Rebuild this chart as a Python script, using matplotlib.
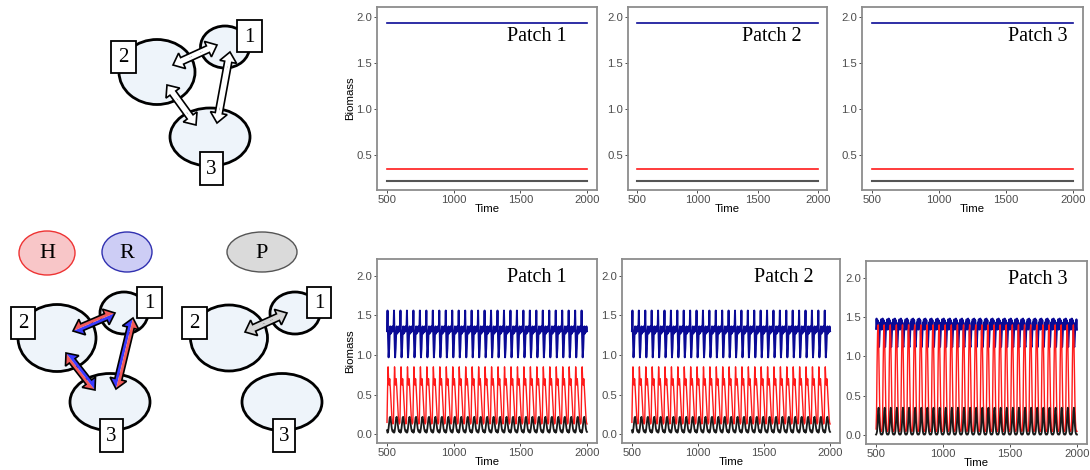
import numpy as np
import matplotlib.pyplot as plt
from matplotlib.patches import Ellipse, Rectangle, Polygon

plt.rcParams['font.family'] = ['Liberation Sans', 'DejaVu Sans']

# ---------------------------------------------------------------
# data
# ---------------------------------------------------------------
time_range = [500, 2000]
patch_names = ['Patch 1', 'Patch 2', 'Patch 3']

# stable (upper row): equilibrium biomass per species, same in every patch
eq_resource = [1.94, 1.94, 1.94]
eq_herbivore = [0.35, 0.35, 0.35]
eq_predator = [0.22, 0.22, 0.22]

# cycling (lower row): one cycle of each species, repeated n_cycles times
n_cycles = [31, 31, 33]
cycle_resource = [
    [1.30, 1.56, 1.22, 0.97, 1.08, 1.28, 1.36, 1.27, 1.34, 1.29, 1.36, 1.30],
    [1.30, 1.56, 1.22, 0.97, 1.08, 1.28, 1.36, 1.27, 1.34, 1.29, 1.36, 1.30],
    [1.35, 1.48, 1.38, 1.46, 1.28, 1.14, 1.12, 1.26, 1.43, 1.36, 1.47, 1.34],
]
cycle_herbivore = [
    [0.15, 0.55, 0.85, 0.68, 0.62, 0.70, 0.60, 0.47, 0.34, 0.22, 0.15, 0.13],
    [0.15, 0.55, 0.85, 0.68, 0.62, 0.70, 0.60, 0.47, 0.34, 0.22, 0.15, 0.13],
    [0.08, 0.30, 0.90, 1.30, 1.40, 1.22, 0.80, 0.42, 0.18, 0.08, 0.05, 0.05],
]
cycle_predator = [
    [0.05, 0.02, 0.03, 0.08, 0.15, 0.21, 0.22, 0.18, 0.12, 0.07, 0.04, 0.03],
    [0.05, 0.02, 0.03, 0.08, 0.15, 0.21, 0.22, 0.18, 0.12, 0.07, 0.04, 0.03],
    [0.01, 0.02, 0.05, 0.15, 0.30, 0.35, 0.25, 0.12, 0.05, 0.02, 0.01, 0.01],
]

blue = '#0a0a96'
red = '#ff1a1a'
black = '#1a1a1a'

W, H = 1090, 470
fig = plt.figure(figsize=(W / 100, H / 100), dpi=100)

# ---------------------------------------------------------------
# network sketches (drawn in pixel coordinates)
# ---------------------------------------------------------------
ax_d = fig.add_axes([0, 0, 1, 1])
ax_d.set_xlim(0, W)
ax_d.set_ylim(H, 0)
ax_d.axis('off')

patch_fill = '#eef4fa'


def patch(cx, cy, w, h):
    ax_d.add_patch(Ellipse((cx, cy), w, h, facecolor=patch_fill, edgecolor='black', lw=2.0, zorder=2))


def label_box(x0, y0, x1, y1, txt):
    ax_d.add_patch(Rectangle((x0, y0), x1 - x0, y1 - y0, facecolor='white', edgecolor='black', lw=1.3, zorder=6))
    ax_d.text((x0 + x1) / 2, (y0 + y1) / 2 + 1, txt, ha='center', va='center', fontsize=15,
              family='Liberation Serif', zorder=7)


def double_arrow(p0, p1, colors, w=3.6, hw=8.5, hl=10):
    p0 = np.array(p0, float)
    p1 = np.array(p1, float)
    u = (p1 - p0) / np.hypot(*(p1 - p0))
    n = np.array([-u[1], u[0]])
    halves = []
    for s in (1, -1):
        halves.append([p0, p0 + u * hl + s * n * hw, p0 + u * hl + s * n * w,
                       p1 - u * hl + s * n * w, p1 - u * hl + s * n * hw, p1])
    for half, c in zip(halves, colors):
        ax_d.add_patch(Polygon(half, closed=True, facecolor=c, edgecolor='none', zorder=4))
    outline = halves[0] + halves[1][::-1][1:-1]
    ax_d.add_patch(Polygon(outline, closed=True, facecolor='none', edgecolor='black', lw=1.2, zorder=5))


# upper sketch: all patches linked
patch(157, 72, 76, 65)
patch(225, 47, 49, 42)
patch(210, 137, 80, 58)
double_arrow((173, 65), (217, 45), ('white', 'white'))
double_arrow((167, 85), (196, 125), ('white', 'white'))
double_arrow((230, 52), (217, 123), ('white', 'white'))
label_box(111, 41, 136, 73, '2')
label_box(237, 20, 262, 52, '1')
label_box(200, 152, 223, 185, '3')

# species legend
ax_d.add_patch(Ellipse((47, 253), 56, 44, facecolor='#f8c6c8', edgecolor='#ee3333', lw=1.0))
ax_d.text(47, 254, 'H', ha='center', va='center', fontsize=16, family='Liberation Serif')
ax_d.add_patch(Ellipse((127, 252), 50, 40, facecolor='#cdcdf5', edgecolor='#3030b0', lw=1.0))
ax_d.text(127, 253, 'R', ha='center', va='center', fontsize=16, family='Liberation Serif')
ax_d.add_patch(Ellipse((262, 252), 70, 40, facecolor='#dadada', edgecolor='#555555', lw=1.0))
ax_d.text(262, 253, 'P', ha='center', va='center', fontsize=16, family='Liberation Serif')

# lower-left sketch: H and R move between all patches
patch(57, 338, 78, 67)
patch(124, 313, 48, 42)
patch(110, 402, 80, 57)
double_arrow((73, 331), (115, 313), ('#3a3aff', '#f25a5a'))
double_arrow((66, 353), (95, 390), ('#f25a5a', '#3a3aff'))
double_arrow((133, 318), (116, 389), ('#3a3aff', '#f25a5a'))
label_box(11, 307, 35, 339, '2')
label_box(137, 287, 162, 318, '1')
label_box(100, 419, 123, 452, '3')

# lower-right sketch: P moves only between patches 1 and 2
patch(229, 338, 77, 66)
patch(295, 313, 50, 42)
patch(282, 402, 80, 57)
double_arrow((245, 332), (287, 313), ('#d4d4d4', '#d4d4d4'))
label_box(182, 307, 207, 339, '2')
label_box(307, 287, 331, 318, '1')
label_box(273, 419, 295, 452, '3')

# ---------------------------------------------------------------
# time-series panels
# ---------------------------------------------------------------
top_boxes = [(377, 7, 597, 190), (628, 7, 827, 190), (862, 7, 1083, 190)]
bot_boxes = [(377, 259, 597, 443), (622, 259, 840, 443), (866, 261, 1087, 444)]
top_title_right = [567, 802, 1067]
bot_title_right = [567, 814, 1067]


def make_axes(box):
    x0, y0, x1, y1 = box
    ax = fig.add_axes([x0 / W, 1 - y1 / H, (x1 - x0) / W, (y1 - y0) / H])
    ax.set_facecolor('white')
    for sp in ax.spines.values():
        sp.set_color('#8c8c8c')
        sp.set_linewidth(1.3)
    ax.tick_params(length=2.5, width=0.7, color='#4d4d4d', labelcolor='#4d4d4d', labelsize=8.2, pad=1)
    ax.set_xlim(425, 2075)
    ax.set_xticks([500, 1000, 1500, 2000])
    ax.set_xlabel('Time', fontsize=8.2, labelpad=-0.5)
    return ax


def add_title(ax, box, right_px, y_frac, name):
    x0, _, x1, _ = box
    ax.text((right_px - x0) / (x1 - x0), y_frac, name, transform=ax.transAxes, ha='right',
            va='center', fontsize=14.5, family='Liberation Serif')


for i, box in enumerate(top_boxes):
    ax = make_axes(box)
    ax.plot(time_range, [eq_resource[i]] * 2, color=blue, lw=1.2)
    ax.plot(time_range, [eq_herbivore[i]] * 2, color=red, lw=1.2)
    ax.plot(time_range, [eq_predator[i]] * 2, color='#555555', lw=1.5)
    ax.set_ylim(0.12, 2.11)
    ax.set_yticks([0.5, 1.0, 1.5, 2.0])
    ax.set_yticklabels(['0.5', '1.0', '1.5', '2.0'])
    if i == 0:
        ax.set_ylabel('Biomass', fontsize=8.2, labelpad=1)
    add_title(ax, box, top_title_right[i], 0.84, patch_names[i])

for i, box in enumerate(bot_boxes):
    ax = make_axes(box)
    r = np.tile(cycle_resource[i], n_cycles[i])
    h = np.tile(cycle_herbivore[i], n_cycles[i])
    p = np.tile(cycle_predator[i], n_cycles[i])
    t = np.linspace(time_range[0], time_range[1], len(r))
    ax.plot(t, r, color=blue, lw=1.4)
    ax.plot(t, h, color=red, lw=1.0)
    ax.plot(t, p, color=black, lw=1.3)
    ax.set_ylim(-0.11, 2.21)
    ax.set_yticks([0.0, 0.5, 1.0, 1.5, 2.0])
    ax.set_yticklabels(['0.0', '0.5', '1.0', '1.5', '2.0'])
    if i == 0:
        ax.set_ylabel('Biomass', fontsize=8.2, labelpad=1)
    add_title(ax, box, bot_title_right[i], 0.9, patch_names[i])

fig.savefig('out.png', dpi=100)
